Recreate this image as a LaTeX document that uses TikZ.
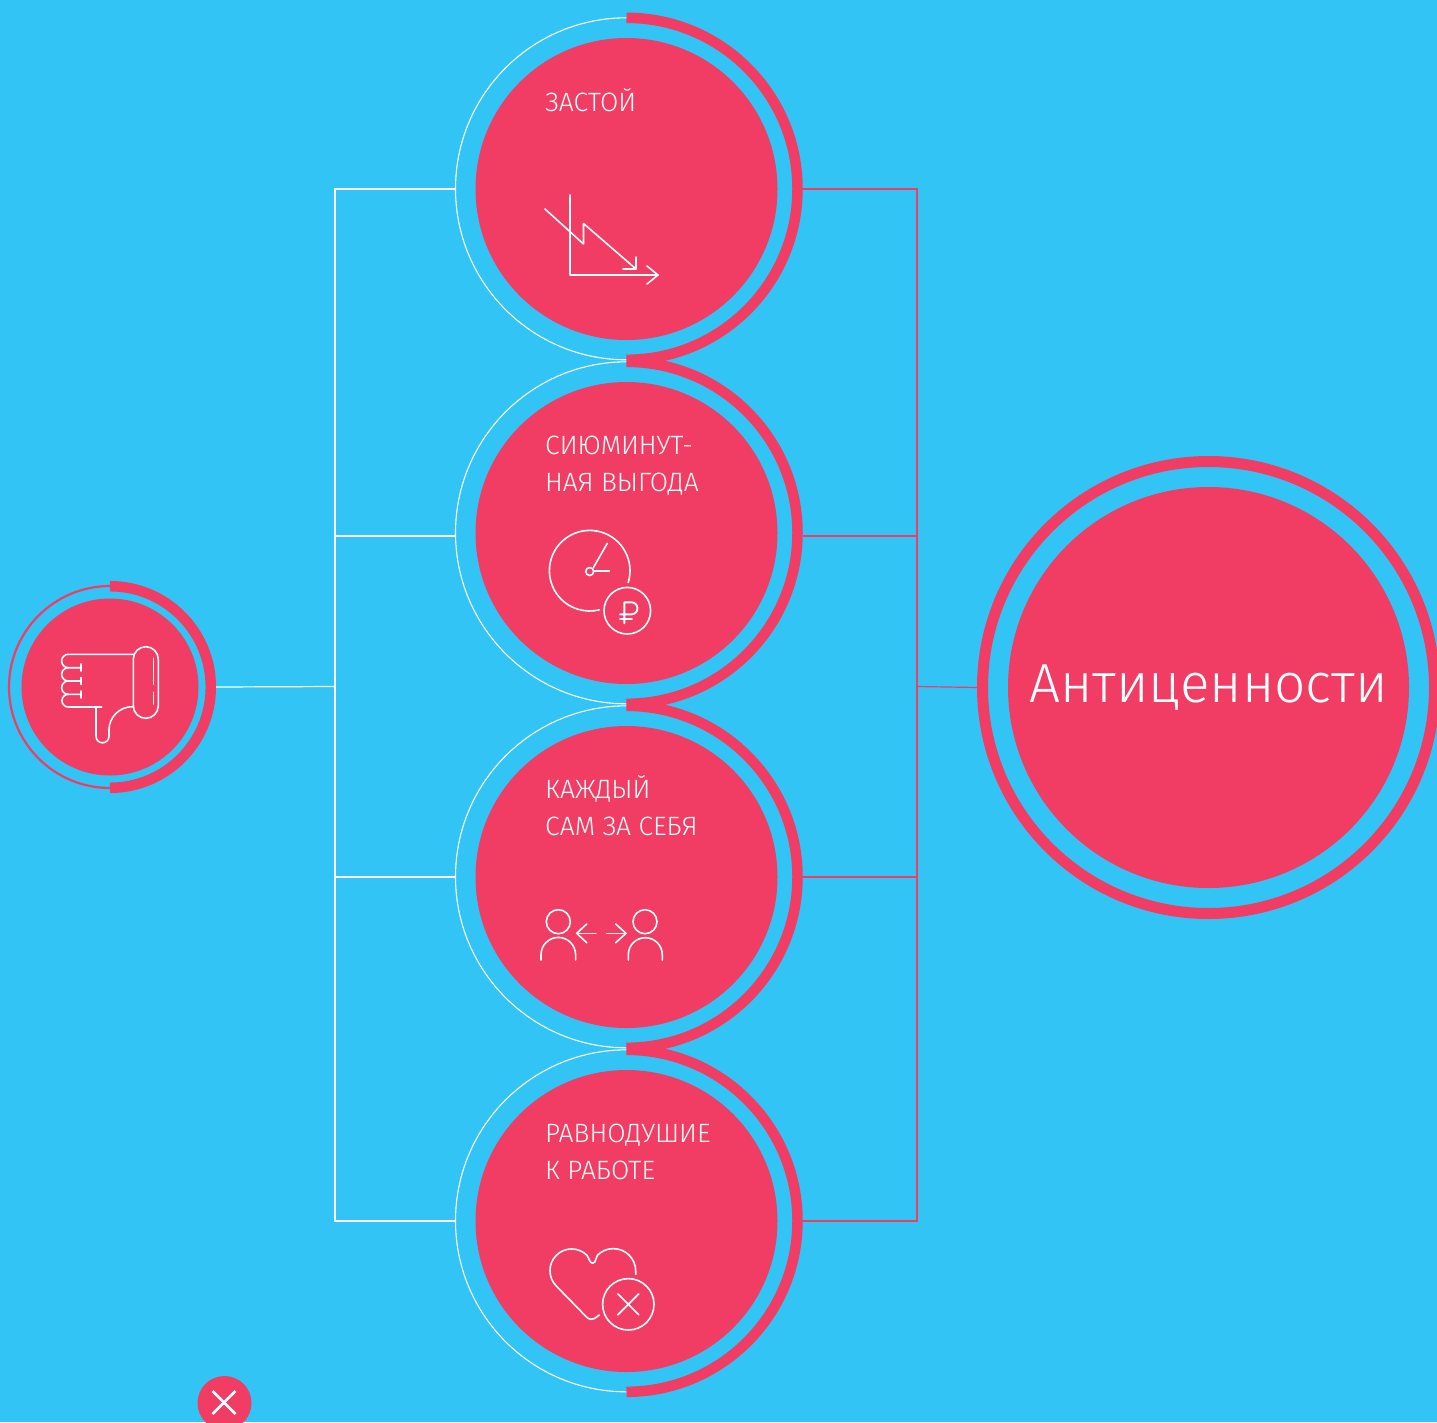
\documentclass[tikz,border=0pt]{standalone}
\usepackage{fontspec}
\setmainfont{Fira Sans Light}
\definecolor{skybg}{RGB}{49,196,245}
\definecolor{rosefill}{RGB}{241,60,100}
\tikzset{
  hub/.style={circle,fill=rosefill,draw=none,inner sep=0pt,minimum size=302pt},
  ringnode/.style={circle,draw=none,inner sep=0pt,minimum size=342pt},
  arcnode/.style={circle,draw=none,inner sep=0pt,minimum size=352pt},
  thickarc/.style={rosefill,line width=10.5pt},
  thinring/.style={white,line width=1.1pt},
  wline/.style={white,line width=1.2pt},
  pline/.style={rosefill,line width=1.2pt},
  icon/.style={white,line width=1.6pt,line cap=round,line join=round},
  label/.style={white,anchor=base west,inner sep=0pt,font=\fontsize{26.5}{37}\selectfont,align=left},
}
\begin{document}
\begin{tikzpicture}[x=1pt,y=1pt]
\useasboundingbox (0,0) rectangle (1437,-1422);
\fill[skybg] (0,0) rectangle (1437,-1422);

% coordinates of the two trunks
\coordinate (tlc) at (335,-686.5);
\coordinate (trc) at (917,-686.5);

% small circle
\node[circle,fill=rosefill,inner sep=0pt,minimum size=177pt] (small) at (110,-687) {};
\node[circle,inner sep=0pt,minimum size=212pt] (smallo) at (110,-687) {};
\draw[rosefill,line width=2.2pt] (110,-586) arc (90:270:101pt);
\draw[rosefill,line width=10.5pt] (110,-586.2) arc (90:-90:100.8pt);

% large circle
\node[circle,fill=rosefill,inner sep=0pt,minimum size=401pt,text=white,font=\fontsize{55}{60}\selectfont] (big) at (1208.5,-687.5) {Антиценности};
\node[circle,draw=rosefill,line width=11pt,inner sep=0pt,minimum size=452pt] (bigr) at (1208.5,-687.5) {};

% four central circles
\foreach \i/\y in {1/189,2/533,3/877,4/1221}{
  \node[hub] (c\i) at (626.5,-\y) {};
  \node[ringnode] (r\i) at (626.5,-\y) {};
  \node[arcnode] (a\i) at (626.5,-\y) {};
  \draw[thinring] (r\i.north) arc (90:270:171pt);
}
\foreach \i in {1,2,3,4}{
  \draw[thickarc] (r\i.north) arc (90:-90:171pt);
}

% connectors
\draw[wline] (r1.west) -| (tlc) |- (r4.west);
\draw[wline] (r2.181) -- (r2.181 -| tlc);
\draw[wline] (r3.west) -- (r3.west -| tlc);
\draw[wline] (smallo.east) -- (tlc);
\draw[pline] (a1.east) -| (trc) |- (a4.east);
\draw[pline] (a2.359) -- (a2.359 -| trc);
\draw[pline] (a3.east) -- (a3.east -| trc);
\draw[pline] (bigr.west) -- (trc);

% labels
\node[label] (t1) at (545,-111) {ЗАСТОЙ};
\node[label] (t2a) at (545,-454) {СИЮМИНУТ-};
\node[label] (t2b) at (545,-491) {НАЯ ВЫГОДА};
\node[label] (t3a) at (545,-798) {КАЖДЫЙ};
\node[label] (t3b) at (545,-835) {САМ ЗА СЕБЯ};
\node[label] (t4a) at (545,-1142) {РАВНОДУШИЕ};
\node[label] (t4b) at (545,-1179) {К РАБОТЕ};

% icon: falling chart
\draw[icon] (570,-195) -- (570,-275) -- (658,-275);
\draw[icon] (647,-266) -- (658,-275) -- (647,-284);
\draw[icon] (545,-209) -- (583.5,-244) -- (583.5,-223.5) -- (636,-269);
\draw[icon] (636,-257) -- (636,-269) -- (623,-269);

% icon: clock and rouble
\draw[icon] (589.7,-570.7) ++(-17:40.3pt) arc (-17:284:40.3pt);
\draw[icon] (589.7,-571.5) circle (4pt);
\draw[icon] (593.3,-567.7) -- (607.3,-543.3);
\draw[icon] (594,-571) -- (609.3,-571);
\draw[icon] (627.3,-610.7) circle (23.3pt);
\draw[icon,line width=1.9pt] (624.3,-623.3) -- (624.3,-602.3) -- (631.5,-602.3) arc (90:-90:6pt) -- (620,-614.3);
\draw[icon,line width=1.9pt] (620,-619.3) -- (632,-619.3);

% icon: two people
\draw[icon] (558.3,-921.7) circle (12pt);
\draw[icon] (541,-960) -- (541,-954.7) arc (180:0:17.3pt) -- (575.6,-960);
\draw[icon] (645,-921.7) circle (12pt);
\draw[icon] (628.3,-960) -- (628.3,-954.7) arc (180:0:17pt) -- (662.3,-960);
\draw[icon] (595.7,-933.3) -- (576.7,-933.3);
\draw[icon] (586.7,-924) -- (576.7,-933.3) -- (586.7,-942.7);
\draw[icon] (606.7,-933.3) -- (626,-933.3);
\draw[icon] (615.7,-924) -- (626,-933.3) -- (615.7,-942.7);

% icon: heart with cross
\draw[icon] (635.7,-1274.3) -- (635.7,-1271) arc (0:135:22.4pt)
  -- (594.8,-1262) .. controls (593.6,-1263.6) and (591.6,-1263.6) .. (590.4,-1262)
  -- (587,-1255.3) arc (45:225:21.7pt)
  -- (586.5,-1317) .. controls (589,-1319.5) and (592,-1320) .. (594.5,-1318.5)
  -- (599.3,-1315);
\draw[icon] (628.3,-1304.3) circle (25.7pt);
\draw[icon] (617.8,-1293.8) -- (638.8,-1314.8);
\draw[icon] (638.8,-1293.8) -- (617.8,-1314.8);

% icon: thumb down
\draw[icon] (133.3,-659.2) arc (180:0:12.5pt) -- (158.3,-705.8) arc (0:-180:12.5pt) -- cycle;
\draw[icon] (153.3,-658.3) -- (153.3,-684);
\draw[icon] (153.3,-692.3) -- (153.3,-704);
\draw[icon] (133.3,-654.3) -- (68.3,-654.3) arc (90:270:6.7pt) -- (81,-667.7);
\draw[icon] (68.3,-667.7) arc (90:270:6.65pt) -- (81,-681);
\draw[icon] (68.3,-681) arc (90:270:6.65pt) -- (81,-694.3);
\draw[icon] (68.3,-694.3) arc (90:270:6.35pt) -- (101.7,-707);
\draw[icon] (81,-664) -- (81,-671);
\draw[icon] (81,-677.5) -- (81,-684.5);
\draw[icon] (81,-691) -- (81,-698);
\draw[icon] (96,-707) -- (96,-736.3) arc (180:360:6.5pt) -- (109,-730) arc (180:90:23.3pt) -- (133.3,-706.7);

% bottom close button
\node[circle,fill=rosefill,inner sep=0pt,minimum size=54pt] (closebtn) at (224.5,-1403) {};
\draw[white,line width=2.6pt] (212.5,-1391) -- (235.5,-1414);
\draw[white,line width=2.6pt] (235.5,-1391) -- (212.5,-1414);
\end{tikzpicture}
\end{document}
